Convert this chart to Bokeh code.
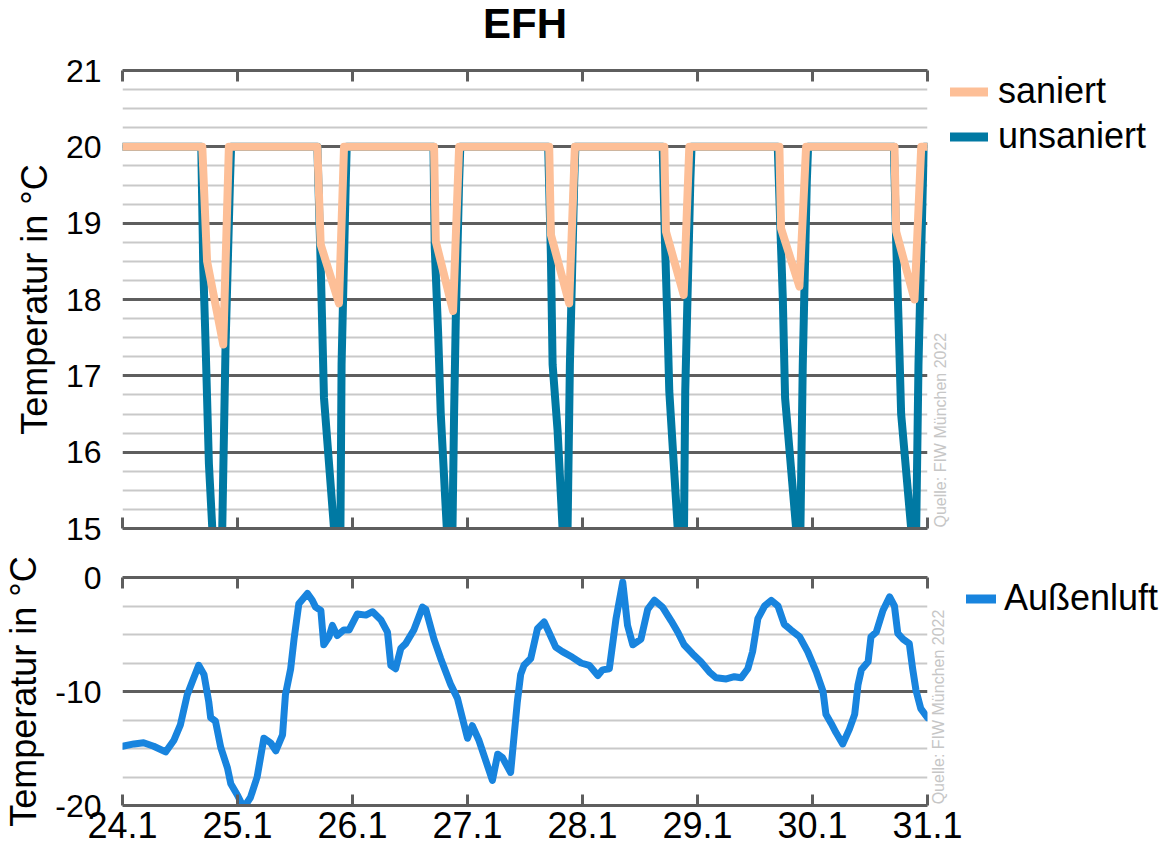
import math
from bokeh.plotting import figure
from bokeh.layouts import column, row
from bokeh.models import FixedTicker, LinearAxis, Legend, LegendItem, Label, Range1d
from bokeh.embed import file_html
from bokeh.resources import INLINE

# ---------------- data ----------------
day_labels = ["24.1", "25.1", "26.1", "27.1", "28.1", "29.1", "30.1", "31.1"]
day_hours = [0, 24, 48, 72, 96, 120, 144, 168]

# room temperature, renovated house (hours since 24.1 00:00)
saniert_t = [0, 16.65, 17.65, 21.03, 22.20,
             40.67, 41.36, 45.18, 46.23,
             65.02, 65.38, 68.99, 70.25,
             89.05, 89.40, 93.22, 94.41,
             113.07, 113.42, 117.12, 118.29,
             137.09, 137.44, 141.27, 142.66,
             161.11, 161.46, 165.29, 166.69, 168]
saniert_v = [20, 20, 18.5, 17.41, 20,
             20, 18.72, 17.95, 20,
             20, 18.76, 17.85, 20,
             20, 18.85, 17.95, 20,
             20, 18.89, 18.06, 20,
             20, 18.93, 18.17, 20,
             20, 18.89, 18.0, 20, 20]

# room temperature, unrenovated house
unsaniert_t = [0,
               16.44, 16.86, 17.30, 18.03, 18.74, 20.28, 21.51, 22.41, 22.66,
               40.67, 41.36, 42.05, 44.14, 45.37, 45.72, 46.58, 46.79,
               64.90, 65.17, 65.86, 66.42, 67.68, 68.62, 69.20, 69.56, 70.25, 70.50,
               88.84, 89.40, 89.76, 90.80, 91.84, 92.66, 93.37, 94.27, 94.52,
               112.73, 113.21, 113.78, 114.11, 115.87, 117.02, 117.44, 118.50, 118.75,
               136.75, 137.30, 137.80, 138.28, 140.58, 141.35, 141.97, 142.81, 143.08,
               160.98, 161.46, 161.94, 162.50, 164.59, 165.50, 166.12, 167.04, 167.31,
               168]
unsaniert_v = [20,
               20, 18.4, 17.5, 15.85, 15.0, 13.15, 17.4, 19.5, 20,
               20, 18.46, 16.71, 15.0, 13.99, 17.15, 19.5, 20,
               20, 18.67, 17.58, 16.5, 15.0, 13.9, 16.5, 17.76, 19.54, 20,
               20, 18.59, 17.15, 16.28, 15.0, 14.0, 17.15, 19.54, 20,
               20, 18.76, 17.58, 16.8, 15.0, 13.82, 16.8, 19.54, 20,
               20, 18.93, 18.02, 16.71, 15.0, 14.43, 17.15, 19.54, 20,
               20, 18.76, 17.76, 16.5, 15.0, 14.36, 17.15, 19.54, 20,
               20]

# outside air temperature
aussen_t = [0, 2.4, 4.4, 6.5, 9.0, 10.7, 12.1, 13.5, 14.6, 15.9, 17.0, 18.0, 18.4, 19.4,
            20.5, 21.9, 22.6, 24.0, 25.3, 26.7, 28.1, 29.5, 30.9, 32.0, 33.4, 34.0,
            35.1, 35.8, 36.8, 38.6, 39.6, 40.3, 41.4, 42.0, 43.1, 43.8, 44.8, 46.2,
            47.3, 49.0, 50.8, 52.2, 53.9, 55.3, 56.0, 57.0, 58.1, 59.1, 60.8, 62.6,
            63.3, 65.0, 66.4, 68.5, 69.9, 72.0, 73.0, 74.4, 77.2, 78.3, 79.3, 81.0,
            82.4, 83.1, 83.8, 85.2, 86.6, 88.0, 89.0, 90.4, 91.8, 93.9, 95.7, 97.4,
            99.2, 100.2, 101.6, 103.0, 104.4, 105.4, 106.5, 108.2, 109.6, 111.0,
            112.7, 114.5, 115.9, 117.2, 119.0, 120.7, 122.5, 123.9, 126.0, 127.7,
            129.1, 130.5, 131.5, 132.6, 134.0, 135.4, 136.8, 138.1, 139.5, 141.3,
            143.0, 144.8, 146.2, 146.8, 147.9, 148.9, 150.3, 151.7, 152.8, 153.5,
            154.2, 155.6, 156.2, 157.3, 158.7, 160.1, 161.1, 161.8, 162.9, 164.2,
            164.9, 165.6, 166.6, 168.0]
aussen_v = [-14.8, -14.6, -14.5, -14.8, -15.3, -14.3, -12.9, -10.3, -9.1, -7.7, -8.5, -10.9, -12.3, -12.6,
            -14.9, -16.7, -18.1, -19.1, -20.2, -19.3, -17.5, -14.1, -14.5, -15.2, -13.8, -10.3,
            -8.0, -5.4, -2.3, -1.4, -2.0, -2.6, -2.9, -5.9, -5.2, -4.2, -5.1, -4.6,
            -4.6, -3.2, -3.3, -3.0, -3.7, -4.8, -7.7, -8.0, -6.2, -5.8, -4.6, -2.6,
            -2.8, -5.4, -7.1, -9.4, -10.6, -14.1, -13.0, -14.3, -17.8, -15.5, -15.8, -17.1,
            -10.9, -8.5, -7.7, -7.1, -4.5, -3.9, -4.8, -6.1, -6.5, -7.0, -7.5, -7.7,
            -8.6, -8.1, -8.0, -3.6, -0.4, -4.2, -5.9, -5.4, -2.8, -2.0,
            -2.6, -3.8, -4.8, -5.9, -6.7, -7.4, -8.3, -8.8, -8.9, -8.7,
            -8.8, -8.0, -6.5, -3.6, -2.5, -2.0, -2.5, -4.1, -4.6, -5.2,
            -6.5, -8.3, -10.0, -12.0, -12.8, -13.6, -14.6, -13.3, -12.0, -9.4,
            -8.1, -7.4, -5.2, -4.8, -2.9, -1.7, -2.5, -4.9, -5.4, -5.8,
            -8.0, -9.9, -11.5, -12.3]

top_major = [15, 16, 17, 18, 19, 20, 21]
top_minor = [15.25, 15.5, 15.75, 16.25, 16.5, 16.75, 17.25, 17.5, 17.75,
             18.25, 18.5, 18.75, 19.25, 19.5, 19.75, 20.25, 20.5, 20.75]
bot_major = [-20, -10, 0]
bot_labels = ["-20", "-10", "0"]
bot_minor = [-17.5, -15, -12.5, -7.5, -5, -2.5]

title_text = "EFH"
source_text = "Quelle: FIW München 2022"
y_title = "Temperatur in °C"

# ---------------- style ----------------
FONT = "Liberation Sans"
AX = "#5e5e5e"
MINOR = "#c9c9c9"
SRC = "#c6c6c6"
C_SAN = "#FDBF97"
C_UNS = "#0079A3"
C_AUS = "#1884DE"

x_range = Range1d(0, 168)


def blank(width, height, top, bottom, yspan, xstart=0):
    f = figure(width=width, height=height, x_range=Range1d(xstart, xstart + width),
               y_range=Range1d(0, yspan),
               output_backend="svg", toolbar_location=None,
               x_axis_location=None, y_axis_location=None,
               min_border_left=0, min_border_right=0, min_border_top=top, min_border_bottom=bottom)
    f.xgrid.visible = False
    f.ygrid.visible = False
    f.outline_line_color = None
    return f


def style_x(ax, labels):
    ax.ticker = FixedTicker(ticks=day_hours)
    ax.axis_line_color = AX
    ax.axis_line_width = 3
    ax.major_tick_line_color = AX
    ax.major_tick_line_width = 3
    ax.major_tick_in = 11
    ax.major_tick_out = 0
    ax.minor_tick_line_color = None
    if labels:
        ax.major_label_overrides = {h: l for h, l in zip(day_hours, day_labels)}
        ax.major_label_text_font = FONT
        ax.major_label_text_font_size = "36px"
        ax.major_label_text_color = "black"
        ax.major_label_standoff = 6
    else:
        ax.major_label_text_font_size = "8px"
        ax.major_label_text_color = None
        ax.major_label_standoff = 0


def style_y(p, major, minor, overrides=None):
    tk = FixedTicker(ticks=major, minor_ticks=minor)
    ax = p.yaxis[0]
    ax.ticker = tk
    if overrides:
        ax.major_label_overrides = overrides
    ax.axis_line_color = None
    ax.major_tick_line_color = None
    ax.minor_tick_line_color = None
    ax.major_label_text_font = FONT
    ax.major_label_text_font_size = "32px"
    ax.major_label_text_color = "black"
    ax.major_label_standoff = 15
    ax.axis_label = y_title
    ax.axis_label_text_font = FONT
    ax.axis_label_text_font_size = "36px"
    ax.axis_label_text_font_style = "normal"
    ax.axis_label_text_color = "black"
    ax.axis_label_standoff = 8
    p.ygrid.ticker = tk
    p.ygrid.grid_line_color = AX
    p.ygrid.grid_line_width = 3
    p.ygrid.minor_grid_line_color = MINOR
    p.ygrid.minor_grid_line_width = 2
    p.xgrid.visible = False
    p.outline_line_color = None


def make_legend(items, loc, glyph_w=38):
    lg = Legend(items=items, location=loc)
    lg.background_fill_alpha = 0
    lg.border_line_color = None
    lg.padding = 0
    lg.margin = 0
    lg.spacing = 3
    lg.glyph_width = glyph_w
    lg.glyph_height = 41
    lg.label_height = 41
    lg.label_standoff = 10 if glyph_w == 38 else 8
    lg.label_text_font = FONT
    lg.label_text_font_size = "36px"
    lg.label_text_color = "black"
    return lg


# ---------------- title strip ----------------
t_fig = blank(1161, 50, 0, 0, 50)
t_fig.add_layout(Label(x=524.5, y=27, text=title_text, text_align="center", text_baseline="middle",
                       text_font=FONT, text_font_size="42px", text_font_style="bold",
                       text_color="black"))

# ---------------- top figure ----------------
p1 = figure(width=929, height=502, x_range=x_range, y_range=Range1d(15, 21),
            output_backend="svg", toolbar_location=None,
            min_border_left=122, min_border_right=2, min_border_top=20, min_border_bottom=24)
style_y(p1, top_major, top_minor)
style_x(p1.xaxis[0], False)
top_ax = LinearAxis()
style_x(top_ax, False)
p1.add_layout(top_ax, "above")

p1.line(unsaniert_t, unsaniert_v, line_color=C_UNS, line_width=8,
        line_join="round", line_cap="round")
p1.line(saniert_t, saniert_v, line_color=C_SAN, line_width=8,
        line_join="round", line_cap="round")

# legend / source panel (same series, kept outside its visible range; only the key is shown)
leg1 = blank(232, 502, 20, 24, 458, xstart=1000)
k_san = leg1.line(saniert_t, saniert_v, line_color=C_SAN, line_width=9, line_cap="round")
k_uns = leg1.line(unsaniert_t, unsaniert_v, line_color=C_UNS, line_width=9, line_cap="round")
leg1.add_layout(make_legend([LegendItem(label="saniert", renderers=[k_san]),
                             LegendItem(label="unsaniert", renderers=[k_uns])], (21, 371)))
leg1.add_layout(Label(x=1011, y=1, angle=math.pi / 2, text=source_text, text_align="left",
                      text_baseline="middle", text_font=FONT, text_font_size="16px",
                      text_color=SRC))

# ---------------- bottom figure ----------------
p2 = figure(width=965, height=300, x_range=x_range, y_range=Range1d(-20, 0),
            output_backend="svg", toolbar_location=None,
            min_border_left=122, min_border_right=38, min_border_top=25, min_border_bottom=47)
style_y(p2, bot_major, bot_minor, {v: s for v, s in zip(bot_major, bot_labels)})
style_x(p2.xaxis[0], True)
top_ax2 = LinearAxis()
style_x(top_ax2, False)
p2.add_layout(top_ax2, "above")

p2.line(aussen_t, aussen_v, line_color=C_AUS, line_width=7,
        line_join="round", line_cap="round")

# source note as a label on a bare right-hand axis
src_ax = LinearAxis(ticker=FixedTicker(ticks=[-19.9]))
src_ax.major_label_overrides = {-19.9: source_text}
src_ax.major_label_orientation = math.pi / 2
src_ax.axis_line_color = None
src_ax.major_tick_line_color = None
src_ax.minor_tick_line_color = None
src_ax.major_tick_in = 0
src_ax.major_tick_out = 0
src_ax.major_label_standoff = 11
src_ax.major_label_text_font = FONT
src_ax.major_label_text_font_size = "16px"
src_ax.major_label_text_color = SRC
p2.add_layout(src_ax, "right")

leg2 = blank(196, 300, 25, 47, 228, xstart=1000)
k_aus = leg2.line(aussen_t, aussen_v, line_color=C_AUS, line_width=9, line_cap="round")
leg2.add_layout(make_legend([LegendItem(label="Außenluft", renderers=[k_aus])], (1, 186),
                            glyph_w=30))

layout = column(t_fig, row(p1, leg1, spacing=0), row(p2, leg2, spacing=0), spacing=0)
open("out.html", "w").write(file_html(layout, INLINE))
